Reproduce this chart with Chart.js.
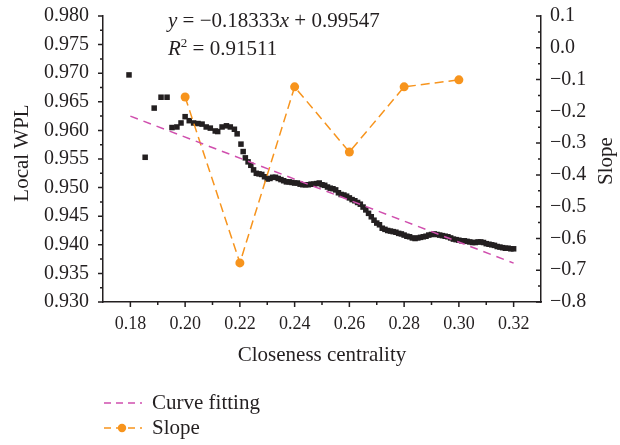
<!DOCTYPE html>
<html><head><meta charset="utf-8">
<script src="https://cdn.jsdelivr.net/npm/chart.js@4.4.1/dist/chart.umd.min.js"></script>
<style>html,body{margin:0;padding:0;background:#fff}#wrap{width:620px;height:445px;position:relative}</style>
</head><body><div id="wrap"><canvas id="c" width="620" height="445"></canvas></div>
<script>
// ---- data ----
const wplX = [0.1795,0.1854,0.1887,0.1912,0.1934,0.1952,0.1970,0.1985,0.2000,0.2015,0.2031,0.2047,0.2062,0.2077,0.2092,0.2110,0.2119,0.2135,0.2151,0.2165,0.2180,0.2190,0.2204,0.2212,
0.222,0.223,0.224,0.225,0.226,0.227,0.228,0.229,0.230,0.231,0.232,0.233,0.234,0.235,0.236,0.237,0.238,0.239,0.240,0.241,0.242,0.243,0.244,0.245,0.246,0.247,0.248,0.249,
0.250,0.251,0.252,0.253,0.254,0.255,0.256,0.257,0.258,0.259,0.260,0.261,0.262,0.263,0.264,0.265,0.266,0.267,0.268,0.269,0.270,0.271,0.272,0.273,0.274,0.275,0.276,0.277,0.278,0.279,
0.280,0.281,0.282,0.283,0.284,0.285,0.286,0.287,0.288,0.289,0.290,0.291,0.292,0.293,0.294,0.295,0.296,0.297,0.298,0.299,0.300,0.301,0.302,0.303,0.304,0.305,0.306,0.307,0.308,0.309,
0.310,0.311,0.312,0.313,0.314,0.315,0.316,0.317,0.318,0.319,0.320];
const wplY = [0.9697,0.9553,0.9639,0.9658,0.9658,0.9605,0.9606,0.9613,0.9624,0.9617,0.9613,0.9612,0.9611,0.9606,0.9604,0.9599,0.9598,0.9606,0.9608,0.9606,0.9602,0.9594,0.9576,0.9563,
0.9552,0.9545,0.9539,0.9531,0.9525,0.9524,0.9523,0.9519,0.9515,0.9516,0.9518,0.9518,0.9516,0.9514,0.9512,0.9510,0.9510,0.9509,0.9508,0.9508,0.9506,0.9505,0.9505,0.9505,0.9506,0.9506,0.9507,0.9508,
0.9505,0.9504,0.9501,0.9499,0.9498,0.9496,0.9491,0.9488,0.9487,0.9485,0.9482,0.9479,0.9477,0.9474,0.9471,0.9466,0.9461,0.9455,0.9449,0.9443,0.9438,0.9435,0.9429,0.9427,0.9425,0.9424,0.9423,0.9422,0.9420,0.9419,
0.9417,0.9415,0.9414,0.9412,0.9411,0.9412,0.9413,0.9414,0.9415,0.9417,0.9418,0.9419,0.9418,0.9417,0.9416,0.9415,0.9414,0.9412,0.9410,0.9409,0.9408,0.9407,0.9407,0.9406,0.9405,0.9404,0.9404,0.9405,0.9405,0.9404,
0.9402,0.9401,0.9400,0.9399,0.9397,0.9396,0.9395,0.9394,0.9394,0.9393,0.9393];
const slopeX = [0.20,0.22,0.24,0.26,0.28,0.30];
const slopeY = [-0.155,-0.677,-0.123,-0.328,-0.123,-0.101];
const fitX = [0.18,0.32];
const fitY = [0.9625,0.9368];
const xTicks = [0.18,0.20,0.22,0.24,0.26,0.28,0.30,0.32];
const yTicks = [0.930,0.935,0.940,0.945,0.950,0.955,0.960,0.965,0.970,0.975,0.980];
const y2Ticks = [-0.8,-0.7,-0.6,-0.5,-0.4,-0.3,-0.2,-0.1,0.0,0.1];
const xTitle = 'Closeness centrality';
const yTitle = 'Local WPL';
const y2Title = 'Slope';
const legendLabels = ['Curve fitting','Slope'];

// ---- styles ----
const INK = '#231F20';
const ORANGE = '#F7941D';
const MAGENTA = '#D04FAE';
const SERIF = '"Liberation Serif","DejaVu Serif",serif';
const pts = (xs, ys) => xs.map((v,i)=>({x:v, y:ys[i]}));
const mids = arr => arr.slice(1).map((v,i)=>(v+arr[i])/2);

const decor = {
  id:'decor',
  afterDraw(chart){
    const {ctx, chartArea:a, scales:{x,y,y2}} = chart;
    ctx.save();
    ctx.strokeStyle = INK; ctx.lineWidth = 1.5;
    ctx.beginPath();
    xTicks.forEach(v=>{const p=x.getPixelForValue(v); ctx.moveTo(p,a.bottom); ctx.lineTo(p,a.bottom+5);});
    mids(xTicks).forEach(v=>{const p=x.getPixelForValue(v); ctx.moveTo(p,a.bottom); ctx.lineTo(p,a.bottom+3);});
    yTicks.forEach(v=>{const p=y.getPixelForValue(v); ctx.moveTo(a.left,p); ctx.lineTo(a.left-5,p);});
    mids(yTicks).forEach(v=>{const p=y.getPixelForValue(v); ctx.moveTo(a.left,p); ctx.lineTo(a.left-3,p);});
    y2Ticks.forEach(v=>{const p=y2.getPixelForValue(v); ctx.moveTo(a.right,p); ctx.lineTo(a.right-5,p);});
    mids(y2Ticks).forEach(v=>{const p=y2.getPixelForValue(v); ctx.moveTo(a.right,p); ctx.lineTo(a.right-3,p);});
    ctx.stroke();

    ctx.fillStyle = INK;
    ctx.font = '21px ' + SERIF;
    ctx.textAlign = 'center'; ctx.textBaseline = 'middle';
    ctx.fillText(xTitle, (a.left+a.right)/2, 355);
    ctx.save(); ctx.translate(22, 153); ctx.rotate(-Math.PI/2); ctx.fillText(yTitle, 0, 0); ctx.restore();
    ctx.save(); ctx.translate(606, 161); ctx.rotate(-Math.PI/2); ctx.fillText(y2Title, 0, 0); ctx.restore();

    // equation
    ctx.textAlign = 'left'; ctx.textBaseline = 'alphabetic';
    const run = (parts, x0, yb) => { let xx = x0; parts.forEach(([t,f,dy])=>{ ctx.font = f; ctx.fillText(t, xx, yb + (dy||0)); xx += ctx.measureText(t).width; }); };
    const N = '21px ' + SERIF, I = 'italic 21px ' + SERIF, S = '13px ' + SERIF;
    run([['y',I],[' = \u22120.18333',N],['x',I],[' + 0.99547',N]], 168, 27);
    run([['R',I],['2',S,-8],[' = 0.91511',N]], 168, 55);

    // legend
    ctx.lineWidth = 1.5;
    ctx.strokeStyle = MAGENTA; ctx.setLineDash([7,5]);
    ctx.beginPath(); ctx.moveTo(104,403); ctx.lineTo(142,403); ctx.stroke();
    ctx.strokeStyle = ORANGE;
    ctx.beginPath(); ctx.moveTo(104,428); ctx.lineTo(142,428); ctx.stroke();
    ctx.setLineDash([]);
    ctx.fillStyle = ORANGE; ctx.beginPath(); ctx.arc(122,428,4.2,0,Math.PI*2); ctx.fill();
    ctx.fillStyle = INK; ctx.font = N; ctx.textBaseline = 'middle';
    ctx.fillText(legendLabels[0], 152, 403);
    ctx.fillText(legendLabels[1], 152, 428);
    ctx.restore();
  }
};

const xFont = {family: SERIF, size: 18};
const yFont = {family: SERIF, size: 20};
const fitV = w => s => { s.width = w; s.paddingTop = 0; s.paddingBottom = 0; };
new Chart(document.getElementById('c'), {
  type: 'scatter',
  data: { datasets: [
    { label: legendLabels[0], data: pts(fitX, fitY), showLine: true, borderColor: MAGENTA, borderWidth: 1.5, borderDash: [8,6], pointRadius: 0, yAxisID: 'y' },
    { label: legendLabels[1], data: pts(slopeX, slopeY), showLine: true, borderColor: ORANGE, borderWidth: 1.5, borderDash: [9,5], pointRadius: 4.5, pointBackgroundColor: ORANGE, pointBorderWidth: 0, yAxisID: 'y2' },
    { label: 'Local WPL', data: pts(wplX, wplY), showLine: false, pointStyle: 'rect', pointRadius: 3.9, pointBackgroundColor: INK, pointBorderWidth: 0, yAxisID: 'y' }
  ]},
  options: {
    responsive: false, animation: false, events: [],
    layout: { padding: { top: 16, left: 0, right: 0, bottom: 0 } },
    plugins: { legend: { display: false }, tooltip: { enabled: false } },
    scales: {
      x: { type: 'linear', position: 'bottom', min: 0.17, max: 0.33,
        grid: { display: false, drawTicks: false }, border: { display: true, color: INK, width: 1.5 },
        afterBuildTicks: s => { s.ticks = xTicks.map(v=>({value:v})); },
        afterFit: s => { s.height = 143; s.paddingLeft = 0; s.paddingRight = 0; },
        ticks: { font: xFont, color: INK, padding: 11, maxRotation: 0, autoSkip: false, callback: v => v.toFixed(2) } },
      y: { type: 'linear', position: 'left', min: 0.930, max: 0.980,
        grid: { display: false, drawTicks: false }, border: { display: true, color: INK, width: 1.5 },
        afterBuildTicks: s => { s.ticks = yTicks.map(v=>({value:v})); },
        afterFit: fitV(103),
        ticks: { font: yFont, color: INK, padding: 14, autoSkip: false, callback: v => v.toFixed(3) } },
      y2: { type: 'linear', position: 'right', min: -0.8, max: 0.1,
        grid: { display: false, drawTicks: false }, border: { display: true, color: INK, width: 1.5 },
        afterBuildTicks: s => { s.ticks = y2Ticks.map(v=>({value:v})); },
        afterFit: fitV(79),
        ticks: { font: yFont, color: INK, padding: 9, autoSkip: false, callback: v => (v < -1e-9 ? '\u2212' : '') + Math.abs(v).toFixed(1) } }
    }
  },
  plugins: [decor]
});
</script>
</body></html>
